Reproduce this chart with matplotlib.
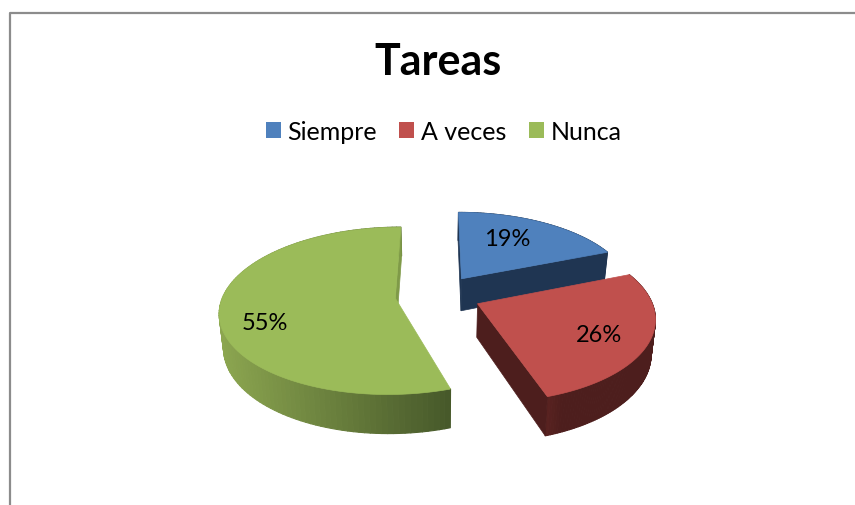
import numpy as np
import matplotlib
matplotlib.use('Agg')
import matplotlib.pyplot as plt
from matplotlib.collections import PolyCollection
from matplotlib.colors import to_rgb
from matplotlib.patches import Patch

plt.rcParams['font.family'] = ['Lato', 'DejaVu Sans']

# datos
titulo = 'Tareas'
categorias = ['Siempre', 'A veces', 'Nunca']
valores = [19, 26, 55]

# estilo
colores = ['#4f81bd', '#c0504d', '#9bbb59']
lado_claro = ['#1f3552', '#5a2321', '#8ca650']
lado_oscuro = ['#1f3552', '#4d1e1d', '#47592a']
pos_etiquetas = [(507, 240), (599, 336), (265, 324)]

cx, cy = 438, 296
R = 172
elipse = 0.47
k = 0.15
explode = 0.25
alto = 33
escala_base = 0.98


def proyectar(theta, radio, offset, bajo=False):
    # angulo en grados desde arriba, sentido horario
    t = np.radians(theta)
    u = radio * np.sin(t) + offset[0]
    v = -radio * np.cos(t) + offset[1]
    s = 1 / (1 - k * v)
    x = R * u * s
    y = R * elipse * v * s
    if bajo:
        return cx + x * escala_base, cy + y + alto * s
    return cx + x, cy + y


fig = plt.figure(figsize=(8.55, 5.06), dpi=100)
ax = fig.add_axes([0, 0, 1, 1])
ax.set_xlim(0, 855)
ax.set_ylim(506, 0)
ax.axis('off')

# marco del grafico
ax.plot([10, 10, 855], [506, 14, 14], color='#8c8c8c', lw=1.6)

fracciones = np.array(valores) / sum(valores) * 360
inicios = np.concatenate([[0], np.cumsum(fracciones)[:-1]])

# orden de dibujo: azul detras, luego verde y rojo
for i in [0, 2, 1]:
    a0 = inicios[i]
    a1 = a0 + fracciones[i]
    medio = np.radians((a0 + a1) / 2)
    off = (explode * np.sin(medio), -explode * np.cos(medio))
    thetas = np.linspace(a0, a1, 120)

    # pared exterior con degradado
    xt, yt = proyectar(thetas, 1, off)
    xb, yb = proyectar(thetas, 1, off, bajo=True)
    polys = []
    cols = []
    c1, c2 = np.array(to_rgb(lado_claro[i])), np.array(to_rgb(lado_oscuro[i]))
    for j in range(len(thetas) - 1):
        polys.append([(xt[j], yt[j]), (xt[j + 1], yt[j + 1]), (xb[j + 1], yb[j + 1]), (xb[j], yb[j])])
        f = (xt[j] - xt.min()) / (xt.max() - xt.min())
        if i == 1:
            f = 1 if f > 0.15 else f / 0.15
        cols.append(c1 + (c2 - c1) * f)
    ax.add_collection(PolyCollection(polys, facecolors=cols, edgecolors=cols, linewidths=0.8))

    # paredes interiores (solo las que se ven)
    ax0, ay0 = proyectar(0, 0, off)
    bx0, by0 = proyectar(0, 0, off, bajo=True)
    pared = '#7f9a48' if i == 2 else lado_oscuro[i]
    visibles = {0: (a0, a1), 1: (a1,), 2: (a1,)}[i]
    for a in visibles:
        px, py = proyectar(a, 1, off)
        qx, qy = proyectar(a, 1, off, bajo=True)
        ax.fill([ax0, px, qx, bx0], [ay0, py, qy, by0], color=pared, lw=0.5)

    # cara superior
    ax.fill(np.r_[ax0, xt], np.r_[ay0, yt], color=colores[i], lw=0.5)

for valor, (x, y) in zip(valores, pos_etiquetas):
    ax.text(x, y, f'{valor}%', ha='center', va='center', fontsize=17, color='black')

ax.text(438, 62, titulo, ha='center', va='center', fontsize=31, fontweight='bold', color='black')

handles = [Patch(facecolor=c, edgecolor='none') for c in colores]
ax.legend(handles, categorias, loc='center', bbox_to_anchor=(443.5 / 855, 1 - 132 / 506), ncol=3,
          frameon=False, fontsize=18, handlelength=0.6, handleheight=0.6, handletextpad=0.28,
          columnspacing=0.88, borderpad=0)

fig.savefig('out.png', dpi=100)
